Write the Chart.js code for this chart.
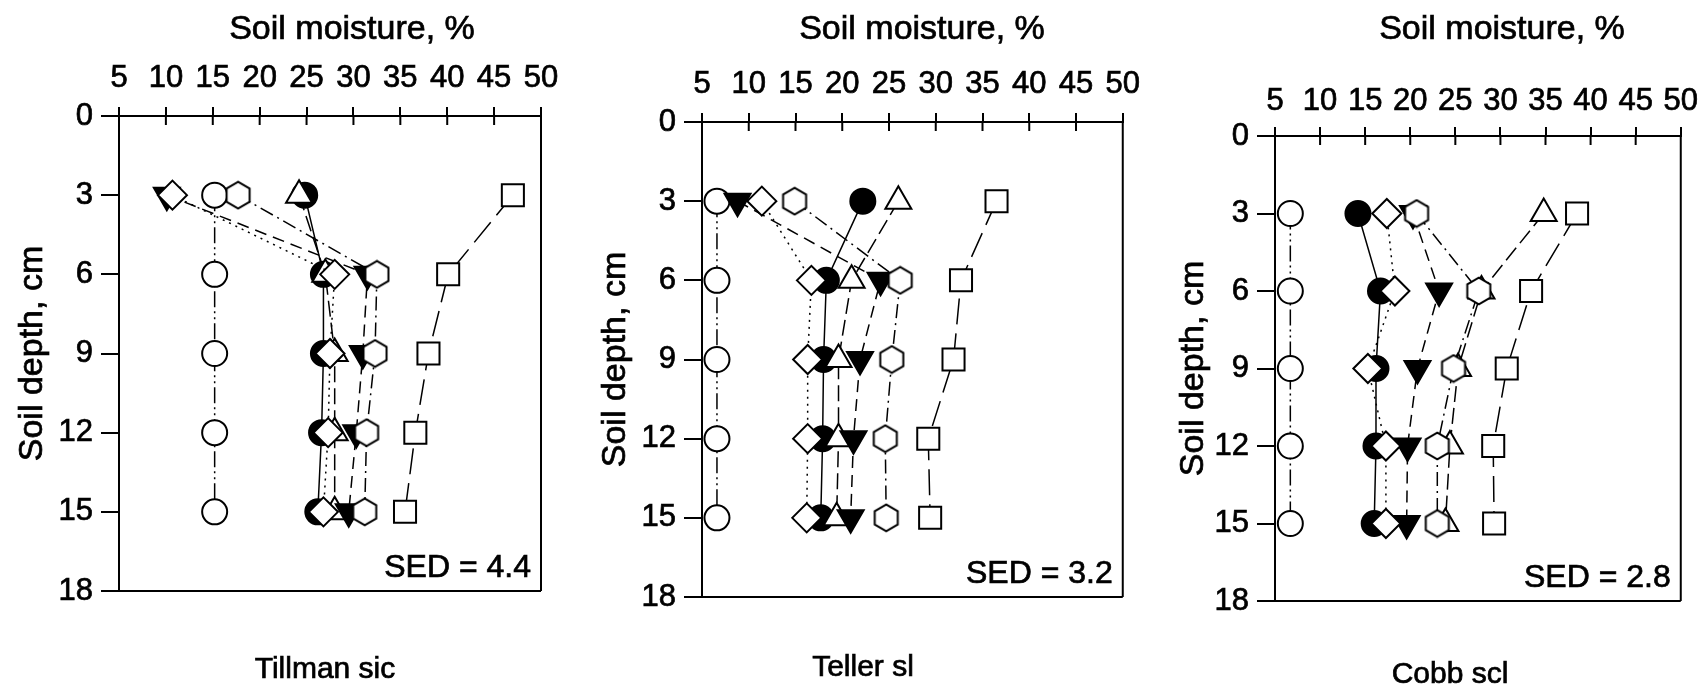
<!DOCTYPE html>
<html lang="en">
<head>
  <meta charset="UTF-8">
  <title>Soil moisture profiles</title>
  <script src="https://cdn.jsdelivr.net/npm/chart.js"></script>
  <style>
    body { margin: 0; background: #fff; }
    #wrap { position: relative; width: 1705px; height: 696px; overflow: hidden; }
    canvas { position: absolute; top: 0; }
  </style>
</head>
<body>
  <div id="wrap">
    <canvas id="tillman" width="580" height="696" style="left:0"></canvas>
    <canvas id="teller" width="570" height="696" style="left:580px"></canvas>
    <canvas id="cobb" width="555" height="696" style="left:1150px"></canvas>
  </div>
<script>
  // depths (cm) and axis ticks
  const depths = [3, 6, 9, 12, 15];
  const moistureTicks = [5, 10, 15, 20, 25, 30, 35, 40, 45, 50];
  const depthTicks = [0, 3, 6, 9, 12, 15, 18];

  const soils = ['Tillman sic', 'Teller sl', 'Cobb scl'];
  const sedLabels = ['SED = 4.4', 'SED = 3.2', 'SED = 2.8'];
  const moistureTitle = 'Soil moisture, %';
  const depthTitle = 'Soil depth, cm';

  // soil moisture (%) by depth, one row per soil: Tillman, Teller, Cobb
  const hexagonSeries = [
    [17.7, 32.5, 32.3, 31.4, 31.2],
    [14.9, 26.2, 25.3, 24.6, 24.7],
    [20.7, 27.6, 24.8, 23.0, 23.0]
  ];
  const diamondSeries = [
    [10.7, 28.0, 27.5, 27.3, 26.8],
    [11.4, 16.7, 16.3, 16.3, 16.2],
    [17.4, 18.3, 15.3, 17.3, 17.3]
  ];
  const downTriSeries = [
    [10.1, 31.5, 31.0, 30.3, 29.5],
    [8.8, 24.1, 21.9, 21.2, 20.9],
    [20.3, 23.2, 20.8, 19.7, 19.6]
  ];
  const upTriSeries = [
    [24.2, 27.0, 28.0, 28.0, 28.0],
    [26.0, 21.0, 19.6, 19.6, 19.4],
    [34.8, 27.9, 25.3, 24.4, 23.9]
  ];
  const dotSeries = [ // filled circles
    [24.8, 26.8, 26.8, 26.6, 26.2],
    [22.2, 18.3, 18.0, 17.9, 17.7],
    [14.2, 16.7, 16.2, 16.2, 16.0]
  ];
  const ringSeries = [ // open circles
    [15.2, 15.2, 15.2, 15.2, 15.2],
    [6.6, 6.6, 6.6, 6.6, 6.6],
    [6.7, 6.7, 6.7, 6.7, 6.7]
  ];
  const squareSeries = [
    [47.0, 40.1, 38.0, 36.6, 35.5],
    [36.5, 32.7, 31.9, 29.2, 29.4],
    [38.5, 33.4, 30.7, 29.2, 29.3]
  ];

  const FONT = '"Liberation Sans", Arial, sans-serif';
  Chart.defaults.font.family = FONT;
  Chart.defaults.color = '#000';

  // hexagon marker (no built-in style for it)
  const hexImg = document.createElement('canvas');
  hexImg.width = 30; hexImg.height = 30;
  const hc = hexImg.getContext('2d');
  hc.beginPath();
  for (let k = 0; k < 6; k++) {
    const ang = (-90 + 60 * k) * Math.PI / 180;
    const px = 15 + 13.3 * Math.cos(ang), py = 15 + 13.3 * Math.sin(ang);
    k ? hc.lineTo(px, py) : hc.moveTo(px, py);
  }
  hc.closePath();
  hc.fillStyle = '#fff'; hc.fill();
  hc.lineWidth = 2; hc.strokeStyle = '#000'; hc.stroke();

  // index 0 is drawn on top
  const seriesStyles = [
    { data: hexagonSeries, point: hexImg, radius: 13, fill: '#fff', dash: [14, 5, 2, 5] },
    { data: diamondSeries, point: 'rectRot', radius: 14.5, fill: '#fff', dash: [2, 5] },
    { data: downTriSeries, point: 'triangle', rot: 180, radius: 15, fill: '#000', dash: [12, 7] },
    { data: upTriSeries, point: 'triangle', radius: 15, fill: '#fff', dash: [16, 6] },
    { data: dotSeries, point: 'circle', radius: 12.5, fill: '#000', dash: [] },
    { data: ringSeries, point: 'circle', radius: 12.5, fill: '#fff', dash: [16, 4, 2, 4, 2, 4] },
    { data: squareSeries, point: 'rect', radius: 15.6, fill: '#fff', dash: [26, 9] }
  ];

  // plot-area placement per panel (canvas pixels)
  const panels = [
    { id: 'tillman', left: 119, top: 116, padRight: 39, padBottom: 105, tickPad: 10, yTitleX: 33, titleX: 352, nameX: 325, nameY: 670 },
    { id: 'teller', left: 122, top: 122, padRight: 27, padBottom: 99, tickPad: 10, yTitleX: 36, titleX: 342, nameX: 283, nameY: 668 },
    { id: 'cobb', left: 125, top: 136, padRight: 9, padBottom: 95, tickPad: 7, yTitleX: 44, titleX: 352, nameX: 300, nameY: 675 }
  ];

  // scanned originals have heavy lettering; a thin outline imitates it
  function heavyText(ctx, text, x, y) {
    ctx.fillText(text, x, y);
    ctx.strokeText(text, x, y);
  }

  const frame = {
    id: 'frame',
    afterDraw(chart) {
      const { ctx, chartArea: a, scales: { x } } = chart;
      const i = chart.options.plugins.frame.index;
      const p = panels[i];
      ctx.save();
      ctx.strokeStyle = '#000';
      ctx.lineWidth = 2;
      ctx.beginPath();
      ctx.moveTo(a.right, a.top); ctx.lineTo(a.right, a.bottom);
      ctx.moveTo(a.left, a.bottom); ctx.lineTo(a.right, a.bottom);
      x.ticks.forEach(t => {
        const px = x.getPixelForValue(t.value);
        ctx.moveTo(px, a.top); ctx.lineTo(px, a.top + 9);
      });
      ctx.stroke();

      ctx.fillStyle = '#000';
      ctx.lineWidth = 0.7;
      ctx.textBaseline = 'middle';
      ctx.textAlign = 'center';
      ctx.font = '34px ' + FONT;
      heavyText(ctx, moistureTitle, p.titleX, 30);
      ctx.font = '30px ' + FONT;
      heavyText(ctx, soils[i], p.nameX, p.nameY);
      ctx.textAlign = 'right';
      ctx.font = '32px ' + FONT;
      heavyText(ctx, sedLabels[i], a.right - 10, a.bottom - 23);

      ctx.translate(p.yTitleX, (a.top + a.bottom) / 2);
      ctx.rotate(-Math.PI / 2);
      ctx.textAlign = 'center';
      ctx.font = '34px ' + FONT;
      heavyText(ctx, depthTitle, 0, 0);
      ctx.restore();
    }
  };

  panels.forEach((p, i) => {
    const datasets = seriesStyles.map(s => ({
      data: depths.map((d, j) => ({ x: s.data[i][j], y: d })),
      showLine: true,
      borderColor: '#000',
      borderWidth: 1.5,
      borderDash: s.dash,
      tension: 0,
      pointStyle: s.point,
      pointRotation: s.rot || 0,
      pointRadius: s.radius,
      pointBackgroundColor: s.fill,
      pointBorderColor: '#000',
      pointBorderWidth: 2,
      clip: false
    }));

    new Chart(document.getElementById(p.id), {
      type: 'scatter',
      data: { datasets },
      options: {
        responsive: false,
        animation: false,
        events: [],
        layout: { padding: { left: 0, top: 0, right: p.padRight, bottom: p.padBottom } },
        plugins: {
          legend: { display: false },
          tooltip: { enabled: false },
          frame: { index: i }
        },
        scales: {
          x: {
            type: 'linear',
            position: 'top',
            min: 5,
            max: 50,
            afterBuildTicks: s => { s.ticks = moistureTicks.map(v => ({ value: v })); },
            afterFit: s => { s.height = p.top; },
            ticks: { font: { size: 31 }, padding: p.tickPad, autoSkip: false, maxRotation: 0, minRotation: 0,
                     textStrokeColor: '#000', textStrokeWidth: 0.7 },
            grid: { drawOnChartArea: false, drawTicks: true, tickLength: 9, color: '#000', lineWidth: 2 },
            border: { color: '#000', width: 2 }
          },
          y: {
            type: 'linear',
            reverse: true,
            min: 0,
            max: 18,
            afterBuildTicks: s => { s.ticks = depthTicks.map(v => ({ value: v })); },
            afterFit: s => { s.width = p.left; },
            ticks: { font: { size: 31 }, padding: 8, autoSkip: false,
                     textStrokeColor: '#000', textStrokeWidth: 0.7 },
            grid: { drawOnChartArea: false, drawTicks: true, tickLength: 18, color: '#000', lineWidth: 2 },
            border: { color: '#000', width: 2 }
          }
        }
      },
      plugins: [frame]
    });
  });
</script>
</body>
</html>
